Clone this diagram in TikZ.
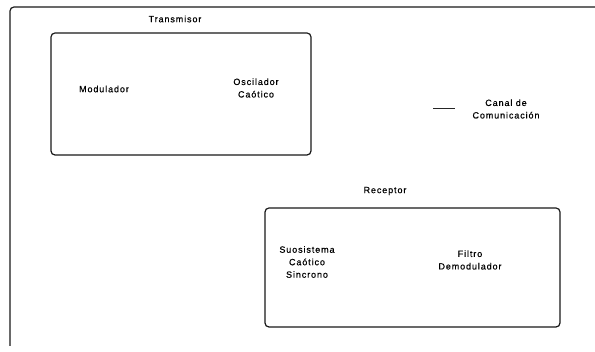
\documentclass[tikz,border=0pt]{standalone}
\usepackage{fontspec}
\setmainfont{Liberation Sans}[LetterSpace=10,FakeBold=0.6]
\begin{document}
\begin{tikzpicture}[x=1pt,y=1pt,
  blk/.style={draw=black!90,line width=1.2pt,rounded corners=4pt},
  lbl/.style={font=\fontsize{9}{12.5}\selectfont,align=center,inner sep=0pt,text=black}]
\useasboundingbox (0,0) rectangle (595,352);
% outer frame (left and top sides)
\draw[line width=1.2pt,draw=black!90,rounded corners=4pt] (595,345) -- (10,345) -- (10,6);
% transmitter
\node[blk,minimum width=260pt,minimum height=122pt] (tx) at (181,258) {};
\node[lbl] (txl) at (175,333) {Transmisor};
\node[lbl] (mod) at (104,263) {Modulador};
\node[lbl] (osc) at (256,264) {Oscilador\\Caótico};
% channel
\coordinate (c1) at (433,244);
\coordinate (c2) at (455,244);
\draw[line width=0.8pt,draw=black!85] (c1) -- (c2);
\node[lbl] (can) at (506,243) {Canal de\\Comunicación};
% receiver
\node[blk,minimum width=295pt,minimum height=119pt] (rx) at (412.5,84.5) {};
\node[lbl] (rxl) at (385,161) {Receptor};
\node[lbl] (sub) at (307,90) {Suosistema\\Caótico\\Sincrono};
\node[lbl] (fil) at (470,92) {Filtro\\Demodulador};
\end{tikzpicture}
\end{document}
